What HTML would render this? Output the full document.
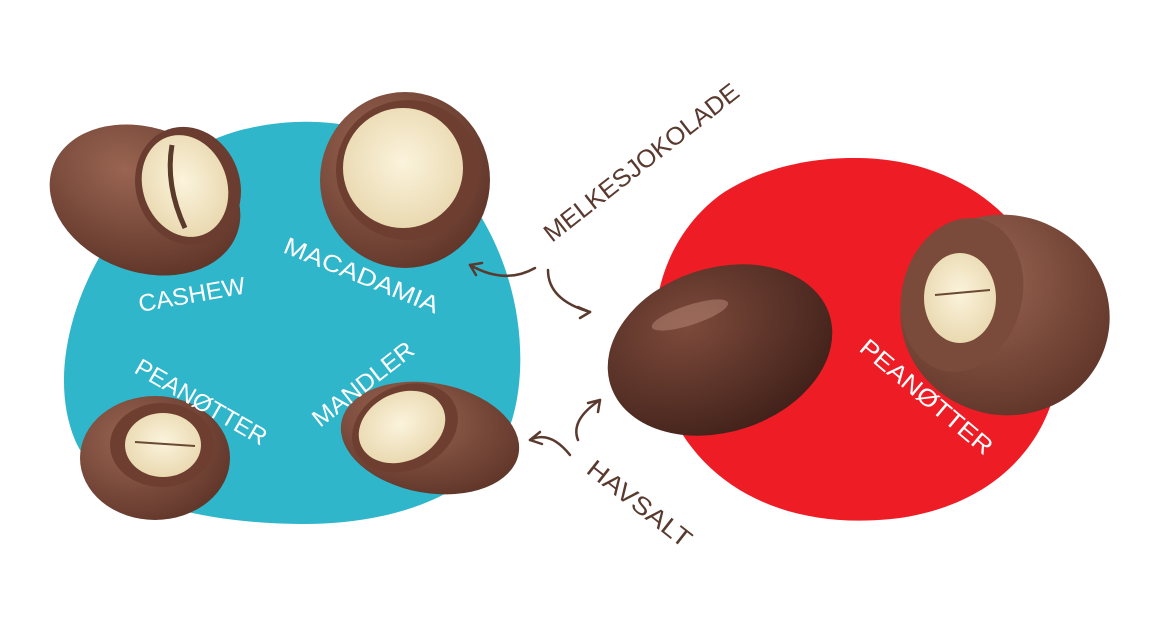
<!DOCTYPE html>
<html><head><meta charset="utf-8"><style>
html,body{margin:0;padding:0;background:#fff;}
svg{display:block;}
text{font-family:"Liberation Sans",sans-serif;}
</style></head><body>
<svg width="1170" height="641" viewBox="0 0 1170 641" xmlns="http://www.w3.org/2000/svg">
<defs>
<radialGradient id="choc" cx="35%" cy="35%" r="75%"><stop offset="0" stop-color="#9a6552"/><stop offset="1" stop-color="#5e3428"/></radialGradient>
<radialGradient id="dark" cx="40%" cy="30%" r="75%"><stop offset="0" stop-color="#7d4a3b"/><stop offset="1" stop-color="#3f2019"/></radialGradient>
<radialGradient id="cream" cx="50%" cy="45%" r="60%"><stop offset="0" stop-color="#fbf3dc"/><stop offset="1" stop-color="#e8d7ad"/></radialGradient>
</defs>
<path d="M250 128 C330 110 420 130 470 200 C520 270 530 360 512 420 C490 490 400 525 300 524 C200 523 100 500 75 440 C50 380 70 300 110 240 C150 180 190 140 250 128 Z" fill="#30b6cb"/>
<path d="M860 158 C960 160 1040 220 1058 320 C1072 410 1020 500 900 518 C790 532 700 490 665 400 C640 320 660 240 720 195 C760 168 810 157 860 158 Z" fill="#ee1c25"/>
<!-- cashew -->
<ellipse cx="145" cy="200" rx="98" ry="72" fill="url(#choc)" transform="rotate(20 145 200)"/>
<ellipse cx="188" cy="186" rx="52" ry="60" fill="#6b3d30" transform="rotate(-20 188 186)"/>
<ellipse cx="185" cy="186" rx="42" ry="52" fill="url(#cream)" transform="rotate(-20 185 186)"/>
<path d="M172 145 Q165 185 185 228" stroke="#5a3a2a" stroke-width="5" fill="none"/>
<!-- macadamia -->
<ellipse cx="405" cy="180" rx="85" ry="88" fill="url(#choc)"/>
<ellipse cx="408" cy="170" rx="72" ry="70" fill="#6e3f30"/>
<ellipse cx="403" cy="168" rx="60" ry="60" fill="url(#cream)"/>
<!-- peanut left -->
<ellipse cx="155" cy="458" rx="75" ry="62" fill="url(#choc)"/>
<ellipse cx="162" cy="445" rx="52" ry="42" fill="#6e3f30"/>
<ellipse cx="163" cy="445" rx="38" ry="32" fill="url(#cream)"/>
<path d="M135 442 L195 446" stroke="#6b4a35" stroke-width="2"/>
<!-- mandler -->
<ellipse cx="430" cy="438" rx="90" ry="55" fill="url(#choc)" transform="rotate(10 430 438)"/>
<ellipse cx="405" cy="428" rx="55" ry="42" fill="#6e3f30" transform="rotate(-25 405 428)"/>
<ellipse cx="402" cy="427" rx="45" ry="34" fill="url(#cream)" transform="rotate(-25 402 427)"/>
<!-- big almond -->
<ellipse cx="720" cy="350" rx="115" ry="82" fill="url(#dark)" transform="rotate(-18 720 350)"/>
<ellipse cx="690" cy="315" rx="40" ry="10" fill="#b98a7a" opacity="0.5" transform="rotate(-18 690 315)"/>
<!-- peanut right -->
<ellipse cx="1005" cy="315" rx="105" ry="100" fill="url(#choc)" transform="rotate(15 1005 315)"/>
<ellipse cx="962" cy="295" rx="60" ry="78" fill="#7a4a3a" transform="rotate(15 962 295)"/>
<ellipse cx="960" cy="298" rx="36" ry="45" fill="url(#cream)"/>
<path d="M935 295 L990 290" stroke="#6b4a35" stroke-width="2"/>
<!-- white labels -->
<g fill="#fff" font-size="24">
<text transform="translate(140 312) rotate(-10)" textLength="108" lengthAdjust="spacingAndGlyphs">CASHEW</text>
<text transform="translate(282 252) rotate(22)" textLength="165" lengthAdjust="spacingAndGlyphs">MACADAMIA</text>
<text transform="translate(133 372) rotate(30)" textLength="148" lengthAdjust="spacingAndGlyphs">PEANØTTER</text>
<text transform="translate(320 428) rotate(-38)" textLength="122" lengthAdjust="spacingAndGlyphs">MANDLER</text>
<text transform="translate(858 350) rotate(40)" textLength="165" lengthAdjust="spacingAndGlyphs">PEANØTTER</text>
</g>
<g fill="#5a3a2e" font-size="25">
<text transform="translate(552 243) rotate(-38)" textLength="240" lengthAdjust="spacingAndGlyphs">MELKESJOKOLADE</text>
<text transform="translate(585 472) rotate(38)" textLength="125" lengthAdjust="spacingAndGlyphs">HAVSALT</text>
</g>
<g stroke="#5a3a2e" stroke-width="2.5" fill="none" stroke-linecap="round">
<path d="M535 268 Q505 285 470 265"/><path d="M470 265 l12 -2 M470 265 l6 10"/>
<path d="M548 270 Q548 300 590 312"/><path d="M590 312 l-12 -5 M590 312 l-10 6"/>
<path d="M578 440 Q570 420 600 400"/><path d="M600 400 l-12 3 M600 400 l-2 12"/>
<path d="M570 455 Q550 430 530 440"/><path d="M530 440 l10 -8 M530 440 l12 4"/>
</g>
</svg>
</body></html>
